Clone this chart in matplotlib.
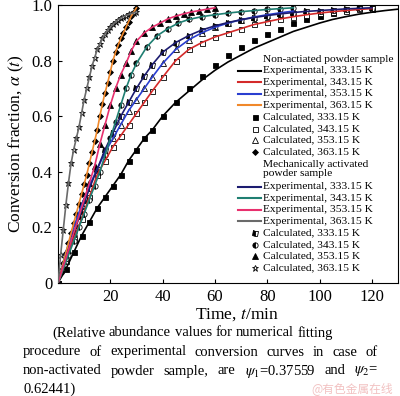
import matplotlib
matplotlib.use('Agg')
import matplotlib.pyplot as plt
from matplotlib.lines import Line2D

plt.rcParams['font.family'] = ['Liberation Serif', 'DejaVu Serif']
plt.rcParams['mathtext.fontset'] = 'stix'

# ---- values (time in min, conversion fraction) ----
# non-activated powder sample
t_n333 = [0, 3, 6, 9, 12, 15, 18, 21, 24, 27, 30, 33, 36,
          40, 45, 50, 55, 60, 65, 70, 75, 80, 85, 90, 95, 100, 105, 110, 115, 120]
a_n333 = [0, .05, .11, .17, .22, .27, .31, .35, .39, .44, .48, .52, .55,
          .60, .65, .70, .745, .785, .82, .85, .875, .895, .915, .935, .95, .962, .973, .982, .988, .992]
# experimental 333.15 K line runs a bit under its markers at long times
t_n333_exp = [0, 3, 6, 9, 12, 15, 18, 21, 24, 27, 30, 33, 36,
              40, 45, 50, 55, 60, 65, 70, 75, 80, 85, 90, 95, 100, 105, 110, 115, 120, 125, 130]
a_n333_exp = [0, .05, .11, .17, .22, .27, .31, .35, .39, .44, .48, .52, .55,
              .60, .65, .69, .73, .765, .795, .82, .845, .865, .885, .905, .92, .935, .948, .958, .967, .974, .98, .985]

t_n343 = [0, 3, 6, 9, 12, 15, 18, 21, 24, 27, 30, 33, 36,
          40, 45, 50, 55, 60, 65, 70, 75, 80, 85, 90, 95, 100, 105, 110, 115, 120]
a_n343 = [0, .08, .16, .23, .31, .39, .44, .49, .53, .57, .61, .65, .69,
          .74, .80, .84, .865, .885, .90, .915, .93, .94, .95, .958, .965, .971, .976, .98, .984, .987]

t_n353 = [0, 3, 6, 9, 12, 15, 18, 21, 24, 27, 30, 33, 36,
          40, 45, 50, 55, 60, 65, 70, 75, 80, 85, 90]
a_n353 = [0, .11, .20, .28, .35, .41, .47, .52, .57, .62, .66, .70, .74,
          .79, .84, .875, .90, .92, .935, .947, .957, .965, .972, .978]

t_n363 = list(range(0, 31))
a_n363 = [0, .036, .072, .108, .144, .18, .215, .25, .285, .32, .355, .39, .43, .47, .51, .55,
          .60, .645, .685, .72, .76, .80, .83, .855, .88, .90, .92, .94, .96, .975, .99]

# mechanically activated powder sample
t_m333 = [0, 3, 6, 9, 12, 15, 18, 21, 24, 27, 30, 33, 36,
          40, 45, 50, 55, 60, 65, 70, 75, 80, 85, 90, 95, 100, 105, 110, 115, 120]
a_m333 = [0, .09, .18, .26, .34, .41, .48, .54, .60, .65, .70, .745, .785,
          .83, .865, .89, .91, .925, .937, .947, .955, .962, .968, .973, .977, .98, .983, .986, .988, .99]

t_m343 = [0, 2, 4, 6, 8, 10, 12, 14, 16, 18, 20, 22, 24, 26, 28, 30,
          34, 38, 42, 46, 50, 55, 60, 65, 70, 75, 80, 85, 90]
a_m343 = [0, .05, .10, .15, .20, .25, .30, .35, .40, .46, .52, .58, .64, .70, .75, .79,
          .85, .89, .915, .935, .948, .958, .965, .971, .976, .98, .984, .987, .99]

t_m353 = [0, 2, 4, 6, 8, 10, 12, 14, 16, 18, 20, 22, 24, 26, 28, 30,
          33, 36, 39, 42, 45, 48, 51, 54, 57, 60]
a_m353 = [0, .06, .12, .18, .24, .30, .36, .42, .50, .57, .64, .70, .75, .79, .835, .87,
          .90, .92, .935, .95, .96, .968, .975, .98, .985, .99]

t_m363 = list(range(0, 31))
a_m363 = [0, .10, .19, .28, .36, .43, .48, .52, .56, .61, .66, .70, .74, .78, .81, .84,
          .86, .88, .895, .91, .92, .93, .94, .947, .953, .958, .962, .966, .969, .972, .975]

temps = ['333.15', '343.15', '353.15', '363.15']
x_ticks = [20, 40, 60, 80, 100, 120]
y_ticks = [0, 0.2, 0.4, 0.6, 0.8, 1.0]
y_ticklabels = ['0', '0.2', '0.4', '0.6', '0.8', '1.0']

# ---- styles ----
non_cols = ['black', '#d42a2a', '#2a3ed0', '#f0882a']
act_cols = ['#1c1c70', '#1f7f72', '#e8306e', '#6a6a6a']
non_mk = [dict(marker='s', mfc='black', ms=3.6),
          dict(marker='s', mfc='white', ms=3.6),
          dict(marker='^', mfc='white', ms=3.8),
          dict(marker='D', mfc='black', ms=3.0)]
act_mk = [dict(marker='s', fillstyle='left', mfc='black', mfcalt='white', ms=3.6),
          dict(marker='o', fillstyle='left', mfc='black', mfcalt='white', ms=3.8),
          dict(marker='^', mfc='black', ms=3.8),
          dict(marker='*', mfc='white', ms=5.0)]

non_data = [(t_n333, a_n333), (t_n343, a_n343), (t_n353, a_n353), (t_n363, a_n363)]
act_data = [(t_m333, a_m333), (t_m343, a_m343), (t_m353, a_m353), (t_m363, a_m363)]

W, H = 400, 396
fig = plt.figure(figsize=(W / 100, H / 100), dpi=100)
ax = fig.add_axes([58 / W, 1 - 283 / H, 340 / W, 278 / H])

for (t, a), mk in zip(non_data + act_data, non_mk + act_mk):
    ax.plot(t, a, linestyle='none', mec='black', mew=0.6, zorder=2, **mk)

non_lines = [(t_n333_exp, a_n333_exp)] + non_data[1:]
for (t, a), c in zip(non_lines, non_cols):
    ax.plot(t, a, color=c, lw=1.2, zorder=3)
for (t, a), c in zip(act_data, act_cols):
    ax.plot(t, a, color=c, lw=1.2, zorder=3)

ax.set_xlim(0, 130)
ax.set_ylim(0, 1.0)
ax.set_xticks(x_ticks)
ax.set_yticks(y_ticks)
ax.set_yticklabels(y_ticklabels)
ax.tick_params(direction='in', length=3, labelsize=12, pad=4)
ax.set_xlabel('Time, $t$/min', fontsize=12.5, labelpad=0)
ax.xaxis.set_label_coords((237 - 58) / 340, -0.085)
ax.set_ylabel(r'Conversion fraction, $\alpha$ ($t$)', fontsize=12.5, labelpad=4)
for s in ax.spines.values():
    s.set_linewidth(0.8)

# legend, laid out row by row in figure pixels
leg_size = 8.2
row_y = 59
pitch = 11.6

def fy(y):
    return 1 - y / H

def leg_text(s, y):
    fig.text(263 / W, fy(y), s, fontsize=leg_size, va='center', linespacing=1.05)

def leg_line(c, y):
    fig.add_artist(Line2D([238 / W, 261 / W], [fy(y), fy(y)], color=c, lw=1.5,
                          transform=fig.transFigure))

def leg_mark(mk, y):
    fig.add_artist(Line2D([255 / W], [fy(y)], linestyle='none', mec='black', mew=0.6,
                          transform=fig.transFigure, **mk))

y = row_y
for header, cols, mks in [('Non-actiated powder sample', non_cols, non_mk),
                          ('Mechanically activated\npowder sample', act_cols, act_mk)]:
    nl = header.count('\n')
    leg_text(header, y + nl * pitch / 2)
    y += pitch * (nl + 1)
    for c, tk in zip(cols, temps):
        leg_line(c, y)
        leg_text('Experimental, %s K' % tk, y)
        y += pitch
    for mk, tk in zip(mks, temps):
        leg_mark(mk, y)
        leg_text('Calculated, %s K' % tk, y)
        y += pitch

# caption, justified word by word
def justify(words, x0, x1, y, size=10.5):
    objs = [fig.text(0, fy(y), w, fontsize=size, va='center') for w in words]
    r = fig.canvas.get_renderer()
    widths = [o.get_window_extent(r).width for o in objs]
    gap = (x1 - x0 - sum(widths)) / (len(words) - 1)
    x = x0
    for o, w in zip(objs, widths):
        o.set_x(x / W)
        x += w + gap

justify('(Relative abundance values for numerical fitting'.split(), 52, 333, 333)
justify('procedure of experimental conversion curves in case of'.split(), 23, 378, 352)
justify(['non-activated', 'powder', 'sample,', 'are', r'$\psi_1$=0.37559', 'and', r'$\psi_2$='],
        23, 378, 371)
fig.text(23 / W, fy(389), '0.62441)', fontsize=10.5, va='center')
fig.text(393 / W, fy(389), '@有色金属在线', ha='right', va='center', fontsize=8.5,
         color='#f2c2c2', family=['Noto Sans CJK SC', 'DejaVu Sans'])

fig.savefig('out.png', dpi=100)
